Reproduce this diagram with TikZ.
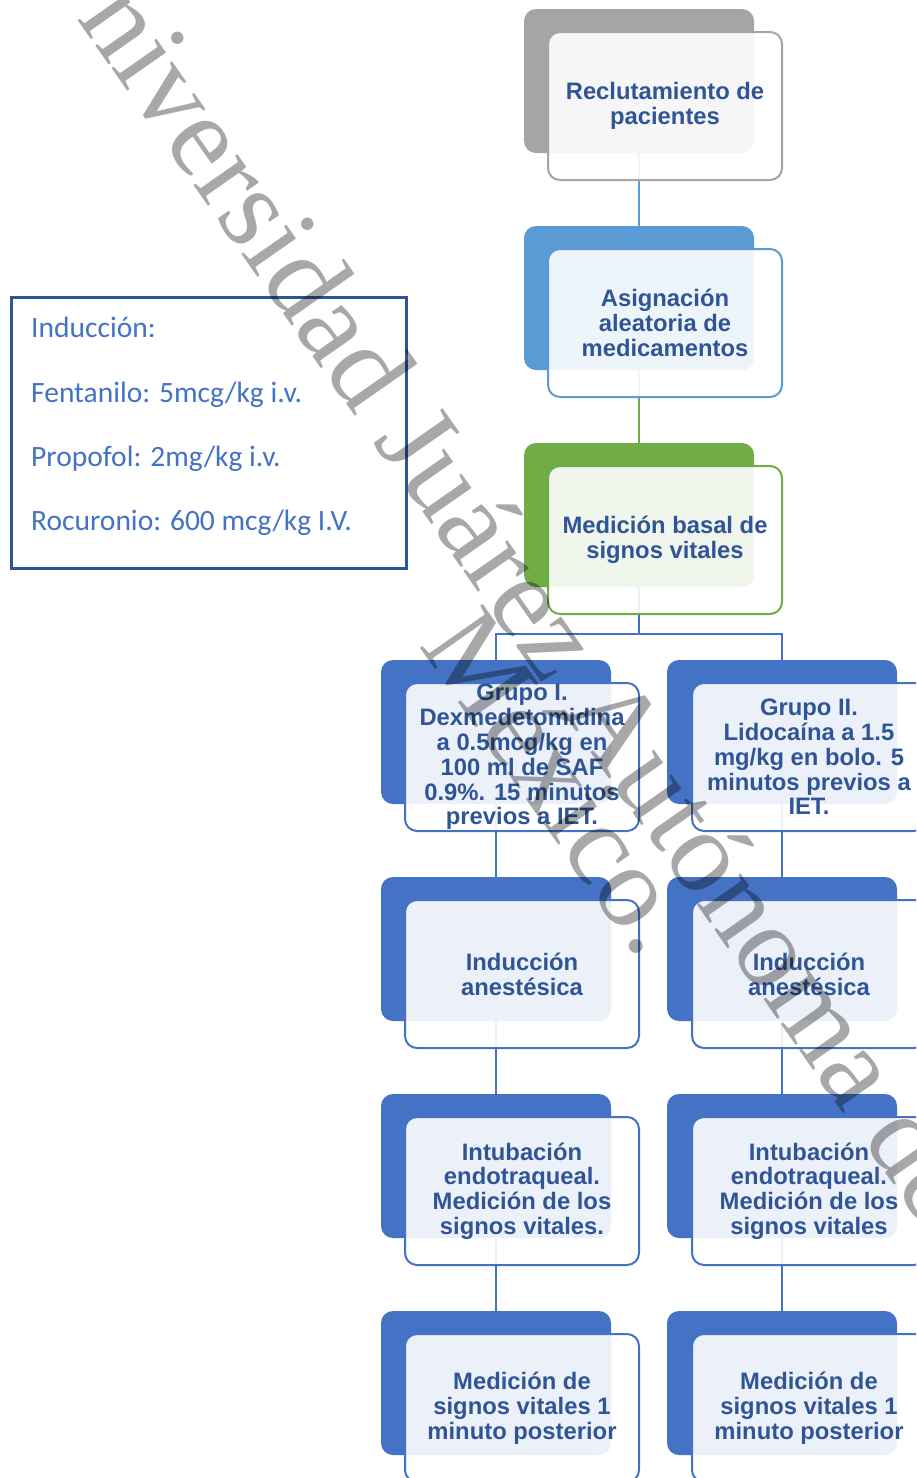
\documentclass[tikz,border=0pt]{standalone}
\usepackage{fontspec}
\newfontfamily\boxfont{Liberation Sans}
\newfontfamily\calib{Carlito}
\newfontfamily\wmfont{Liberation Serif}
\definecolor{cgrey}{HTML}{A5A5A5}
\definecolor{clblue}{HTML}{5B9BD5}
\definecolor{cgreen}{HTML}{70AD47}
\definecolor{cblue}{HTML}{4472C4}
\definecolor{ctext}{HTML}{2F5597}
\definecolor{cframe}{HTML}{2F5597}
\begin{document}
\begin{tikzpicture}[x=1pt,y=-1pt,
  backbox/.style={fill=#1, draw=none, rounded corners=12pt, minimum width=230pt, minimum height=144pt, inner sep=0pt},
  frontbox/.style={draw=#1, line width=2pt, fill=white, fill opacity=0.9, text opacity=1, rounded corners=12pt,
    minimum width=234pt, minimum height=148pt, inner sep=0pt, align=center, text=ctext,
    font=\boxfont\bfseries\fontsize{23.8}{24.8}\selectfont},
  link/.style={draw=#1, line width=2pt},
  sidetext/.style={anchor=base west, inner sep=0pt, text=cblue, font=\calib\fontsize{29.5}{32}\selectfont},
  wmark/.style={inner sep=0pt, rotate=-55, text=black, text opacity=0.34, font=\wmfont\fontsize{117}{130}\selectfont}
]
\useasboundingbox (0,0) rectangle (916,1478);
\clip (0,0) rectangle (916,1478);
\fill[white] (0,0) rectangle (916,1478);

% back boxes
\node[backbox=cgrey]  (b1) at (639,81) {};
\node[backbox=clblue] (b2) at (639,298) {};
\node[backbox=cgreen] (b3) at (639,515) {};
\node[backbox=cblue] (g1) at (496,732) {};
\node[backbox=cblue] (h1) at (782,732) {};
\node[backbox=cblue] (g2) at (496,949) {};
\node[backbox=cblue] (h2) at (782,949) {};
\node[backbox=cblue] (g3) at (496,1166) {};
\node[backbox=cblue] (h3) at (782,1166) {};
\node[backbox=cblue] (g4) at (496,1383) {};
\node[backbox=cblue] (h4) at (782,1383) {};

% connectors
\coordinate (split) at (639,634);
\draw[link=clblue] (b1.south) -- (b2.north);
\draw[link=cgreen] (b2.south) -- (b3.north);
\draw[link=cblue] (b3.south) -- (split) -| (g1.north);
\draw[link=cblue] (split) -| (h1.north);
\draw[link=cblue] (g1.south) -- (g2.north);
\draw[link=cblue] (g2.south) -- (g3.north);
\draw[link=cblue] (g3.south) -- (g4.north);
\draw[link=cblue] (h1.south) -- (h2.north);
\draw[link=cblue] (h2.south) -- (h3.north);
\draw[link=cblue] (h3.south) -- (h4.north);

% front boxes
\node[frontbox=cgrey]  (f1) at (665,106) {Reclutamiento de\\pacientes};
\node[frontbox=clblue] (f2) at (665,323) {Asignación\\aleatoria de\\medicamentos};
\node[frontbox=cgreen] (f3) at (665,540) {Medición basal de\\signos vitales};
\node[frontbox=cblue] (fg1) at (522,757) {Grupo I.\\Dexmedetomidina\\a 0.5mcg/kg en\\100 ml de SAF\\0.9\%. 15 minutos\\previos a IET.};
\node[frontbox=cblue] (fh1) at (809,757) {Grupo II.\\Lidocaína a 1.5\\mg/kg en bolo. 5\\minutos previos a\\IET.};
\node[frontbox=cblue] (fg2) at (522,974) {Inducción\\anestésica};
\node[frontbox=cblue] (fh2) at (809,974) {Inducción\\anestésica};
\node[frontbox=cblue] (fg3) at (522,1191) {Intubación\\endotraqueal.\\Medición de los\\signos vitales.};
\node[frontbox=cblue] (fh3) at (809,1191) {Intubación\\endotraqueal.\\Medición de los\\signos vitales};
\node[frontbox=cblue] (fg4) at (522,1408) {Medición de\\signos vitales 1\\minuto posterior};
\node[frontbox=cblue] (fh4) at (809,1408) {Medición de\\signos vitales 1\\minuto posterior};

% induction box
\node[draw=cframe, line width=2.5pt, minimum width=395pt, minimum height=271pt, inner sep=0pt, anchor=north west] (ind) at (10,296) {};
\node[sidetext] (s1) at (31,337) {Inducción:};
\node[sidetext] (s2) at (31,402) {Fentanilo: 5mcg/kg i.v.};
\node[sidetext] (s3) at (31,466) {Propofol: 2mg/kg i.v.};
\node[sidetext] (s4) at (31,530) {Rocuronio: 600 mcg/kg I.V.};

% watermark
\node[wmark, anchor=base west] (wm1) at (28,-51) {Universidad Juárez Autónoma de};
\node[wmark, anchor=base east] (wm2) at (640,962) {México.};
\end{tikzpicture}
\end{document}
